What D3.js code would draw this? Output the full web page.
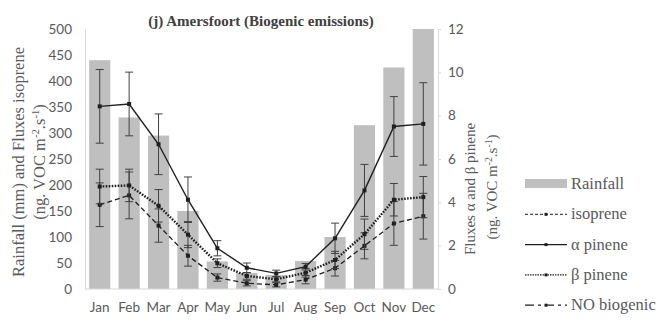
<!DOCTYPE html>
<html>
<head>
<meta charset="utf-8">
<script src="https://cdn.jsdelivr.net/npm/d3@7/dist/d3.min.js"></script>
<style>
  html, body { margin: 0; padding: 0; background: #fff; }
  svg { display: block; }
  .serif { font-family: "Times New Roman", "Liberation Serif", Tinos, "DejaVu Serif", "Noto Serif", FreeSerif, serif; }
</style>
</head>
<body>
<svg id="chart" width="672" height="329"></svg>
<script>
// Monthly rainfall (mm, left axis) with biogenic VOC fluxes
const months = ["Jan","Feb","Mar","Apr","May","Jun","Jul","Aug","Sep","Oct","Nov","Dec"];
const rainfall = [440, 330, 295, 150, 53, 31, 27, 54, 100, 315, 426, 500];

// isoprene flux on the left axis (ng VOC m-2 s-1)
const isoprene    = [162, 180, 122, 64, 22, 11, 8, 18, 40, 83, 126, 140];
const isopreneErr = [42, 45, 32, 20, 7, 5, 4, 8, 15, 25, 42, 44];

// α and β pinene fluxes on the right axis (ng VOC m-2 s-1)
const alphaPinene    = [8.43, 8.54, 6.68, 4.12, 1.88, 0.98, 0.72, 1.03, 2.34, 4.55, 7.5, 7.62];
const alphaPineneErr = [1.7, 1.47, 1.4, 1.05, 0.35, 0.22, 0.15, 0.15, 0.7, 1.2, 1.38, 1.9];
const betaPinene     = [4.73, 4.78, 3.84, 2.51, 1.19, 0.6, 0.45, 0.75, 1.34, 2.53, 4.12, 4.24];
const betaPineneErr  = [0.8, 0.75, 0.75, 0.6, 0.2, 0.15, 0.12, 0.2, 0.4, 0.7, 0.75, 0.95];

const leftTicks  = [0, 50, 100, 150, 200, 250, 300, 350, 400, 450, 500];
const rightTicks = [0, 2, 4, 6, 8, 10, 12];

const svg = d3.select("#chart");
const plot = { left: 85, right: 438, top: 29, bottom: 289 };

const x = d3.scaleBand().domain(months).range([plot.left, plot.right])
  .paddingInner(0.28).paddingOuter(0.14);
const yL = d3.scaleLinear().domain([0, 500]).range([plot.bottom, plot.top]);
const yR = d3.scaleLinear().domain([0, 12]).range([plot.bottom, plot.top]);
const cx = m => x(m) + x.bandwidth() / 2;

const tickFont = "Lato, 'Open Sans', sans-serif";
const textGrey = "#595959";
const lineCol = "#1f1f1f";

// Rainfall bars
svg.append("g").selectAll("rect").data(months).join("rect")
  .attr("x", d => x(d))
  .attr("y", (d, i) => yL(rainfall[i]))
  .attr("width", x.bandwidth())
  .attr("height", (d, i) => yL(0) - yL(rainfall[i]))
  .attr("fill", "#bfbfbf");

// Axes
const leftAxis = svg.append("g").attr("transform", `translate(${plot.left},0)`)
  .call(d3.axisLeft(yL).tickValues(leftTicks).tickSize(0).tickPadding(13));
leftAxis.select(".domain").attr("stroke", "#d9d9d9");

const rightAxis = svg.append("g").attr("transform", `translate(${plot.right},0)`)
  .call(d3.axisRight(yR).tickValues(rightTicks).tickSize(3).tickPadding(7).tickSizeOuter(0));
rightAxis.select(".domain").attr("stroke", "#d9d9d9");
rightAxis.selectAll(".tick line").attr("stroke", "#d9d9d9");

const bottomAxis = svg.append("g").attr("transform", `translate(0,${plot.bottom})`)
  .call(d3.axisBottom(x).tickSize(0).tickPadding(13));
bottomAxis.select(".domain").attr("stroke", "#d9d9d9").attr("d", `M${plot.left},0H${plot.right}`);

[leftAxis, rightAxis, bottomAxis].forEach(a =>
  a.selectAll("text").attr("font-family", tickFont).attr("font-size", 13.5).attr("fill", textGrey));

// Error bars + lines + markers
function series(values, errs, scale, opts) {
  const g = svg.append("g");
  const cap = 4;
  const eb = g.append("g").attr("stroke", "#404040").attr("stroke-width", 1);
  months.forEach((m, i) => {
    const xc = cx(m), lo = scale(values[i] - errs[i]), hi = scale(values[i] + errs[i]);
    eb.append("line").attr("x1", xc).attr("x2", xc).attr("y1", lo).attr("y2", hi);
    eb.append("line").attr("x1", xc - cap).attr("x2", xc + cap).attr("y1", lo).attr("y2", lo);
    eb.append("line").attr("x1", xc - cap).attr("x2", xc + cap).attr("y1", hi).attr("y2", hi);
  });
  const line = d3.line().x((d, i) => cx(months[i])).y(d => scale(d));
  g.append("path").datum(values).attr("d", line)
    .attr("fill", "none").attr("stroke", lineCol)
    .attr("stroke-width", opts.width).attr("stroke-dasharray", opts.dash || null);
  g.append("g").selectAll("rect").data(values).join("rect")
    .attr("x", (d, i) => cx(months[i]) - 2).attr("y", d => scale(d) - 2)
    .attr("width", 4).attr("height", 4).attr("fill", lineCol);
}

series(isoprene, isopreneErr, yL, { width: 1.3, dash: "5,3" });
series(betaPinene, betaPineneErr, yR, { width: 2.4, dash: "1.6,1.4" });
series(alphaPinene, alphaPineneErr, yR, { width: 1.4 });

// Title
svg.append("text").attr("class", "serif").attr("x", 261).attr("y", 26).attr("text-anchor", "middle")
  .attr("font-weight", "bold").attr("font-size", 15)
  .attr("fill", "#404040").text("(j) Amersfoort (Biogenic emissions)");

// Axis titles
function vTitle(xPos, yPos, size, parts) {
  const t = svg.append("text").attr("class", "serif")
    .attr("transform", `translate(${xPos},${yPos}) rotate(-90)`)
    .attr("text-anchor", "middle").attr("font-size", size)
    .attr("fill", textGrey);
  parts.forEach(p => {
    const s = t.append("tspan").text(p.t);
    if (p.sup) s.attr("baseline-shift", "super").attr("font-size", size * 0.65);
  });
}
const unitParts = [{ t: "(ng. VOC m" }, { t: "-2", sup: true }, { t: ".s" }, { t: "-1", sup: true }, { t: ")" }];
vTitle(24, 162, 16.5, [{ t: "Rainfall (mm) and Fluxes isoprene" }]);
vTitle(45, 162, 16.5, unitParts);
vTitle(475, 189, 15, [{ t: "Fluxes α and β pinene" }]);
vTitle(497, 187, 15, unitParts);

// Legend
const legend = [
  { label: "Rainfall", type: "bar" },
  { label: "isoprene", dash: "3,2", width: 1 },
  { label: "α pinene", dash: null, width: 1.4 },
  { label: "β pinene", dash: "1.5,1", width: 1.4 },
  { label: "NO biogenic", dash: "9,4,3,4", width: 1.2 }
];
const lg = svg.append("g");
legend.forEach((d, i) => {
  const yy = 184 + i * 30.3;
  if (d.type === "bar") {
    lg.append("rect").attr("x", 525).attr("y", yy - 5).attr("width", 42).attr("height", 9).attr("fill", "#bfbfbf");
  } else {
    lg.append("line").attr("x1", 525).attr("x2", 567).attr("y1", yy).attr("y2", yy)
      .attr("stroke", lineCol).attr("stroke-width", d.width).attr("stroke-dasharray", d.dash);
    lg.append("rect").attr("x", 544.5).attr("y", yy - 1.5).attr("width", 3).attr("height", 3).attr("fill", lineCol);
  }
  lg.append("text").attr("class", "serif").attr("x", 571).attr("y", yy + 5).attr("font-size", 16.5)
    .attr("fill", textGrey).text(d.label);
});
</script>
</body>
</html>
